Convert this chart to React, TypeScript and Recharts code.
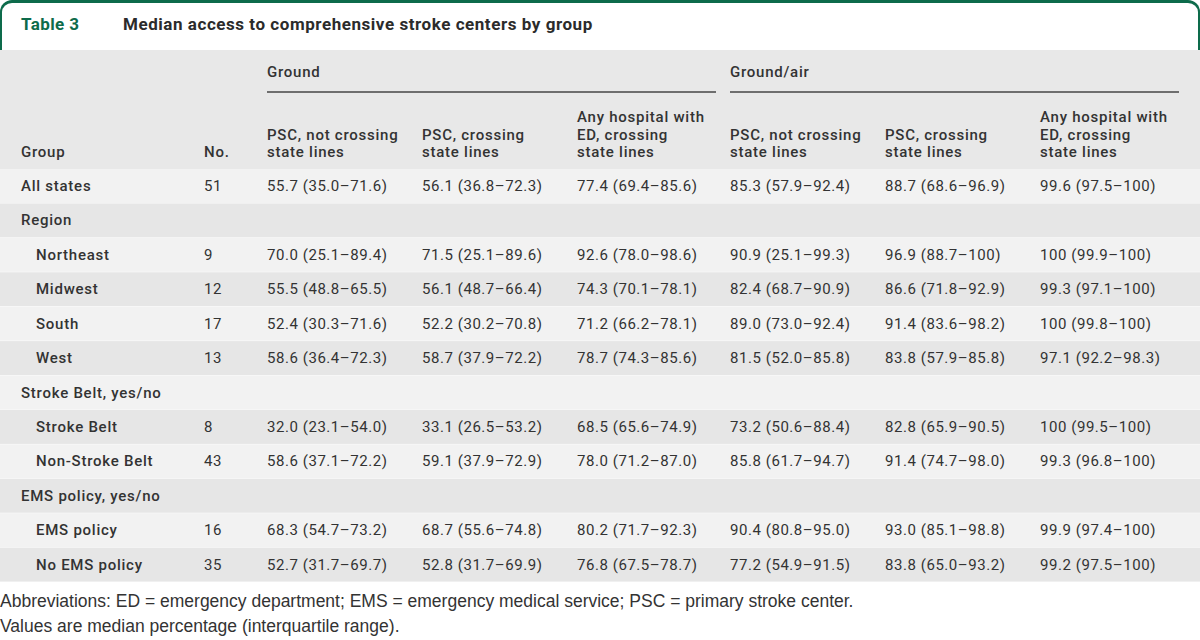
import React from "react";
import { BarChart, Bar, XAxis, YAxis, Cell } from "recharts";

// ---------- data ----------
const groups = [
  "All states",
  "Region",
  "Northeast",
  "Midwest",
  "South",
  "West",
  "Stroke Belt, yes/no",
  "Stroke Belt",
  "Non-Stroke Belt",
  "EMS policy, yes/no",
  "EMS policy",
  "No EMS policy",
];
const indented = [false, false, true, true, true, true, false, true, true, false, true, true];
const counts = ["51", "", "9", "12", "17", "13", "", "8", "43", "", "16", "35"];

const groundPscNotCrossing = [
  "55.7 (35.0–71.6)", "", "70.0 (25.1–89.4)", "55.5 (48.8–65.5)", "52.4 (30.3–71.6)", "58.6 (36.4–72.3)",
  "", "32.0 (23.1–54.0)", "58.6 (37.1–72.2)", "", "68.3 (54.7–73.2)", "52.7 (31.7–69.7)",
];
const groundPscCrossing = [
  "56.1 (36.8–72.3)", "", "71.5 (25.1–89.6)", "56.1 (48.7–66.4)", "52.2 (30.2–70.8)", "58.7 (37.9–72.2)",
  "", "33.1 (26.5–53.2)", "59.1 (37.9–72.9)", "", "68.7 (55.6–74.8)", "52.8 (31.7–69.9)",
];
const groundAnyEd = [
  "77.4 (69.4–85.6)", "", "92.6 (78.0–98.6)", "74.3 (70.1–78.1)", "71.2 (66.2–78.1)", "78.7 (74.3–85.6)",
  "", "68.5 (65.6–74.9)", "78.0 (71.2–87.0)", "", "80.2 (71.7–92.3)", "76.8 (67.5–78.7)",
];
const airPscNotCrossing = [
  "85.3 (57.9–92.4)", "", "90.9 (25.1–99.3)", "82.4 (68.7–90.9)", "89.0 (73.0–92.4)", "81.5 (52.0–85.8)",
  "", "73.2 (50.6–88.4)", "85.8 (61.7–94.7)", "", "90.4 (80.8–95.0)", "77.2 (54.9–91.5)",
];
const airPscCrossing = [
  "88.7 (68.6–96.9)", "", "96.9 (88.7–100)", "86.6 (71.8–92.9)", "91.4 (83.6–98.2)", "83.8 (57.9–85.8)",
  "", "82.8 (65.9–90.5)", "91.4 (74.7–98.0)", "", "93.0 (85.1–98.8)", "83.8 (65.0–93.2)",
];
const airAnyEd = [
  "99.6 (97.5–100)", "", "100 (99.9–100)", "99.3 (97.1–100)", "100 (99.8–100)", "97.1 (92.2–98.3)",
  "", "100 (99.5–100)", "99.3 (96.8–100)", "", "99.9 (97.4–100)", "99.2 (97.5–100)",
];

const groupHeaders = ["Ground", "Ground/air"];
const columnHeaders = [
  ["PSC, not crossing", "state lines"],
  ["PSC, crossing", "state lines"],
  ["Any hospital with", "ED, crossing", "state lines"],
  ["PSC, not crossing", "state lines"],
  ["PSC, crossing", "state lines"],
  ["Any hospital with", "ED, crossing", "state lines"],
];
const tableLabel = "Table 3";
const tableTitle = "Median access to comprehensive stroke centers by group";
const footnotes = [
  "Abbreviations: ED = emergency department; EMS = emergency medical service; PSC = primary stroke center.",
  "Values are median percentage (interquartile range).",
];

const valueColumns = [
  groundPscNotCrossing,
  groundPscCrossing,
  groundAnyEd,
  airPscNotCrossing,
  airPscCrossing,
  airAnyEd,
];

const rows = groups.map((g, i) => ({
  key: `r${i}`,
  idx: i,
  group: g,
  span: 1,
}));

// ---------- layout / style ----------
const W = 1200;
const H = 640;
const HEADER_TOP = 50;
const BODY_TOP = 169;
const BODY_BOTTOM = 582;
const GROUP_X = 21;
const INDENT_X = 36;
const NO_X = 204;
const COL_X = [267, 422, 577, 730, 885, 1040];
const GREEN = "#0d6b4b";
const TEXT = "#333333";
const LIGHT = "#f2f2f2";
const DARK = "#e6e6e6";
const FONT = "Roboto, 'Liberation Sans', Arial, sans-serif";
const VALUE_SPACING = 0.55;
const LABEL_SPACING = 0.75;

const RowShape = (props: any) => {
  const { x, y, width, height, fill } = props;
  const i: number = props.payload?.idx ?? props.index ?? 0;
  const cy = y + height / 2;
  const labelX = x + (indented[i] ? INDENT_X : GROUP_X);
  return (
    <g>
      <rect x={x} y={y} width={width} height={height} fill={fill} />
      <text
        x={labelX}
        y={cy}
        dominantBaseline="central"
        fontSize={15}
        fontWeight={500}
        fill={TEXT}
        fontFamily={FONT}
        letterSpacing={LABEL_SPACING}
      >
        {groups[i]}
      </text>
      {counts[i] ? (
        <text
          x={x + NO_X}
          y={cy}
          dominantBaseline="central"
          fontSize={15}
          fill={TEXT}
          fontFamily={FONT}
          letterSpacing={VALUE_SPACING}
        >
          {counts[i]}
        </text>
      ) : null}
      {valueColumns.map((col, c) =>
        col[i] ? (
          <text
            key={c}
            x={x + COL_X[c]}
            y={cy}
            dominantBaseline="central"
            fontSize={15}
            fill={TEXT}
            fontFamily={FONT}
            letterSpacing={VALUE_SPACING}
          >
            {col[i]}
          </text>
        ) : null
      )}
    </g>
  );
};

export default function App() {
  const headerLine = (text: string, left: number, centerY: number, key?: any) => (
    <div
      key={key}
      style={{
        position: "absolute",
        left,
        top: centerY - 10,
        height: 20,
        lineHeight: "20px",
        fontSize: 15,
        fontWeight: 500,
        color: TEXT,
        whiteSpace: "nowrap",
        letterSpacing: LABEL_SPACING,
      }}
    >
      {text}
    </div>
  );

  const lineYs = [117, 134.5, 152];

  return (
    <div
      style={{
        position: "absolute",
        left: 0,
        top: 0,
        width: W,
        height: H,
        background: "#ffffff",
        fontFamily: FONT,
        overflow: "hidden",
      }}
    >
      {/* title tab */}
      <div
        style={{
          position: "absolute",
          left: 0,
          top: 0,
          width: W,
          height: HEADER_TOP,
          boxSizing: "border-box",
          borderTop: `3px solid ${GREEN}`,
          borderLeft: `2.5px solid ${GREEN}`,
          borderRight: `2.5px solid ${GREEN}`,
          borderRadius: "12px 12px 0 0",
          background: "#ffffff",
        }}
      />
      <div
        style={{
          position: "absolute",
          left: 21,
          top: 13,
          fontSize: 17,
          lineHeight: "22px",
          fontWeight: 700,
          color: GREEN,
          whiteSpace: "nowrap",
          letterSpacing: 0.4,
        }}
      >
        {tableLabel}
      </div>
      <div
        style={{
          position: "absolute",
          left: 123,
          top: 13,
          fontSize: 17,
          lineHeight: "22px",
          fontWeight: 700,
          color: "#2b2b2b",
          whiteSpace: "nowrap",
          letterSpacing: 0.55,
        }}
      >
        {tableTitle}
      </div>

      {/* column header area */}
      <div
        style={{
          position: "absolute",
          left: 0,
          top: HEADER_TOP,
          width: W,
          height: BODY_TOP - HEADER_TOP,
          background: "#e8e8e8",
        }}
      />
      {headerLine(groupHeaders[0], COL_X[0], 72)}
      {headerLine(groupHeaders[1], COL_X[3], 72)}
      <div
        style={{
          position: "absolute",
          left: COL_X[0],
          top: 91,
          width: 716 - COL_X[0],
          height: 2,
          background: "#6e6e6e",
        }}
      />
      <div
        style={{
          position: "absolute",
          left: COL_X[3],
          top: 91,
          width: 1179 - COL_X[3],
          height: 2,
          background: "#6e6e6e",
        }}
      />
      {headerLine("Group", GROUP_X, 152)}
      {headerLine("No.", NO_X, 152)}
      {columnHeaders.map((lines, c) =>
        lines.map((t, li) =>
          headerLine(t, COL_X[c], lineYs[3 - lines.length + li], `${c}-${li}`)
        )
      )}

      {/* body rows */}
      <div style={{ position: "absolute", left: 0, top: 0 }}>
        <BarChart
          width={W}
          height={H}
          data={rows}
          layout="vertical"
          margin={{ top: BODY_TOP, right: 0, bottom: H - BODY_BOTTOM, left: 0 }}
          barCategoryGap={0}
        >
          <XAxis type="number" domain={[0, 1]} hide />
          <YAxis type="category" dataKey="key" hide />
          <Bar dataKey="span" isAnimationActive={false} shape={RowShape}>
            {rows.map((r, i) => (
              <Cell key={r.key} fill={i % 2 === 0 ? LIGHT : DARK} />
            ))}
          </Bar>
        </BarChart>
      </div>

      {/* footnotes */}
      {footnotes.map((t, i) => (
        <div
          key={i}
          style={{
            position: "absolute",
            left: 0,
            top: 589 + i * 25,
            fontSize: 17.5,
            lineHeight: "24px",
            color: TEXT,
            whiteSpace: "nowrap",
            fontFamily: "'Liberation Sans', Arial, sans-serif",
          }}
        >
          {t}
        </div>
      ))}
    </div>
  );
}
